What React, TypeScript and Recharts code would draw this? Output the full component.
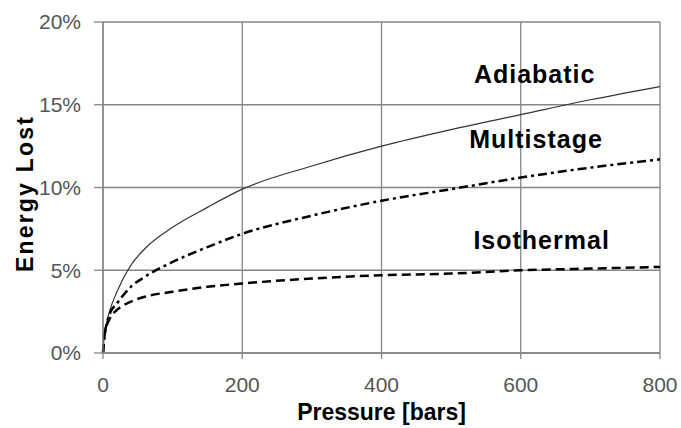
import React from 'react';
import { LineChart, Line, XAxis, YAxis, CartesianGrid, ReferenceDot } from 'recharts';

const pressures = [0, 2, 5, 10, 20, 40, 60, 100, 150, 200, 300, 400, 500, 600, 700, 800];
const adiabatic = [0, 0.012, 0.018, 0.026, 0.037, 0.053, 0.063, 0.076, 0.088, 0.099, 0.113, 0.125, 0.135, 0.144, 0.153, 0.161];
const multistage = [0, 0.01, 0.017, 0.024, 0.03, 0.04, 0.046, 0.055, 0.064, 0.072, 0.083, 0.092, 0.099, 0.106, 0.112, 0.117];
const isothermal = [0, 0.01, 0.016, 0.021, 0.026, 0.031, 0.034, 0.037, 0.04, 0.042, 0.045, 0.047, 0.048, 0.05, 0.051, 0.052];

const xTicks = [0, 200, 400, 600, 800];
const yTicks = [0, 0.05, 0.1, 0.15, 0.2];

// curve name labels, anchored in data coordinates
const curveLabels = [
  { text: 'Adiabatic', x: 620, y: 0.163 },
  { text: 'Multistage', x: 622, y: 0.124 },
  { text: 'Isothermal', x: 630, y: 0.063 },
];

const data = pressures.map((p, i) => ({
  p,
  adiabatic: adiabatic[i],
  multistage: multistage[i],
  isothermal: isothermal[i],
}));

const FONT = '"Liberation Sans", Arial, sans-serif';
const GRID = '#858585';

const App: React.FC = () => {
  return (
    <div style={{ position: 'absolute', left: 0, top: 0, width: 681, height: 428, background: '#fff' }}>
      <LineChart width={681} height={428} data={data} margin={{ top: 22, right: 21, left: 0, bottom: 0 }}>
        <CartesianGrid stroke={GRID} strokeWidth={1.3} />
        <XAxis
          dataKey="p"
          type="number"
          domain={[0, 800]}
          ticks={xTicks}
          height={75}
          stroke={GRID}
          strokeWidth={1.3}
          tickSize={6}
          tickMargin={18}
          tick={{ fill: '#555', fontSize: 21, fontFamily: FONT }}
          label={{
            content: ({ viewBox }: any) => (
              <text
                x={viewBox.x + viewBox.width / 2}
                y={viewBox.y + 67}
                textAnchor="middle"
                fontFamily={FONT}
                fontWeight="bold"
                fontSize={23}
                fill="#000"
              >
                Pressure [bars]
              </text>
            ),
          }}
        />
        <YAxis
          type="number"
          domain={[0, 0.2]}
          ticks={yTicks}
          width={103}
          stroke={GRID}
          strokeWidth={1.3}
          tickSize={9}
          tickMargin={13}
          tickFormatter={(v) => `${Math.round(v * 100)}%`}
          tick={{ fill: '#555', fontSize: 21, fontFamily: FONT }}
          label={{
            content: ({ viewBox }: any) => {
              const cx = 33;
              const cy = viewBox.y + viewBox.height / 2 + 6;
              return (
                <text
                  x={cx}
                  y={cy}
                  transform={`rotate(-90 ${cx} ${cy})`}
                  textAnchor="middle"
                  fontFamily={FONT}
                  fontWeight="bold"
                  fontSize={23}
                  letterSpacing={2.2}
                  fill="#000"
                >
                  Energy Lost
                </text>
              );
            },
          }}
        />
        <Line
          type="monotone"
          dataKey="adiabatic"
          stroke="#333"
          strokeWidth={1.2}
          dot={false}
          isAnimationActive={false}
        />
        <Line
          type="monotone"
          dataKey="multistage"
          stroke="#000"
          strokeWidth={2.5}
          strokeDasharray="9 4 3 4"
          dot={false}
          isAnimationActive={false}
        />
        <Line
          type="monotone"
          dataKey="isothermal"
          stroke="#000"
          strokeWidth={2.5}
          strokeDasharray="9 5"
          dot={false}
          isAnimationActive={false}
        />
        {curveLabels.map((l) => (
          <ReferenceDot
            key={l.text}
            x={l.x}
            y={l.y}
            r={0}
            stroke="none"
            fill="none"
            label={{
              content: ({ viewBox }: any) => (
                <text
                  x={viewBox.x}
                  y={viewBox.y}
                  textAnchor="middle"
                  fontFamily={FONT}
                  fontWeight="bold"
                  fontSize={25}
                  letterSpacing={1}
                  fill="#000"
                >
                  {l.text}
                </text>
              ),
            }}
          />
        ))}
      </LineChart>
    </div>
  );
};

export default App;
